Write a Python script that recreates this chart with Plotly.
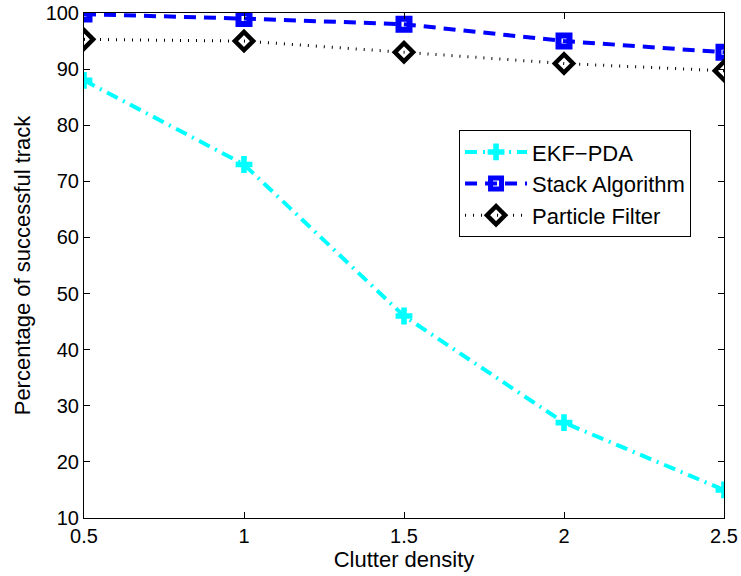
import plotly.graph_objects as go

clutter = [0.5, 1.0, 1.5, 2.0, 2.5]
ekf_pda = [88, 73, 46, 27, 15]
stack_alg = [99.8, 99, 98, 95, 93]
particle = [95.3, 95, 93, 91, 89.7]

font_family = "Liberation Sans, Arial, sans-serif"

fig = go.Figure()
fig.add_trace(go.Scatter(
    x=clutter, y=ekf_pda, name="EKF\u2212PDA", mode="lines+markers",
    line=dict(color="#00FFFF", width=4, dash="12px,6px,2px,6px"),
    marker=dict(symbol="cross", size=14, color="#00FFFF", line=dict(width=0)),
))
fig.add_trace(go.Scatter(
    x=clutter, y=stack_alg, name="Stack Algorithm", mode="lines+markers",
    line=dict(color="#0000FF", width=4, dash="12px,8px"),
    marker=dict(symbol="square-open", size=11, color="#0000FF", line=dict(width=6, color="#0000FF")),
))
fig.add_trace(go.Scatter(
    x=clutter, y=particle, name="Particle Filter", mode="lines+markers",
    line=dict(color="black", width=3, dash="1px,7px"),
    marker=dict(symbol="diamond-open", size=14, color="black", line=dict(width=4.5, color="black")),
))

axis_common = dict(
    showline=True, linecolor="black", linewidth=1, mirror="ticks",
    ticks="inside", ticklen=6, tickcolor="black", showgrid=False, zeroline=False,
    automargin=False,
    tickfont=dict(family=font_family, size=20, color="black"),
)

fig.update_layout(
    width=741, height=576,
    margin=dict(l=84, r=17, t=13, b=58),
    plot_bgcolor="white", paper_bgcolor="white",
    font=dict(family=font_family, color="black"),
    xaxis=dict(range=[0.5, 2.5], tickvals=[0.5, 1, 1.5, 2, 2.5], ticktext=["0.5", "1", "1.5", "2", "2.5"],
               title=dict(text="Clutter density", font=dict(size=22), standoff=2), **axis_common),
    yaxis=dict(range=[10, 100], tickvals=list(range(10, 101, 10)),
               title=dict(text="Percentage of successful track", font=dict(size=22), standoff=8), **axis_common),
    legend=dict(x=0.586, y=0.768, xanchor="left", yanchor="top",
                bordercolor="black", borderwidth=1, bgcolor="white", itemwidth=62,
                font=dict(family=font_family, size=22, color="black"), tracegroupgap=0),
    showlegend=True,
)

fig.write_html("out.html")
